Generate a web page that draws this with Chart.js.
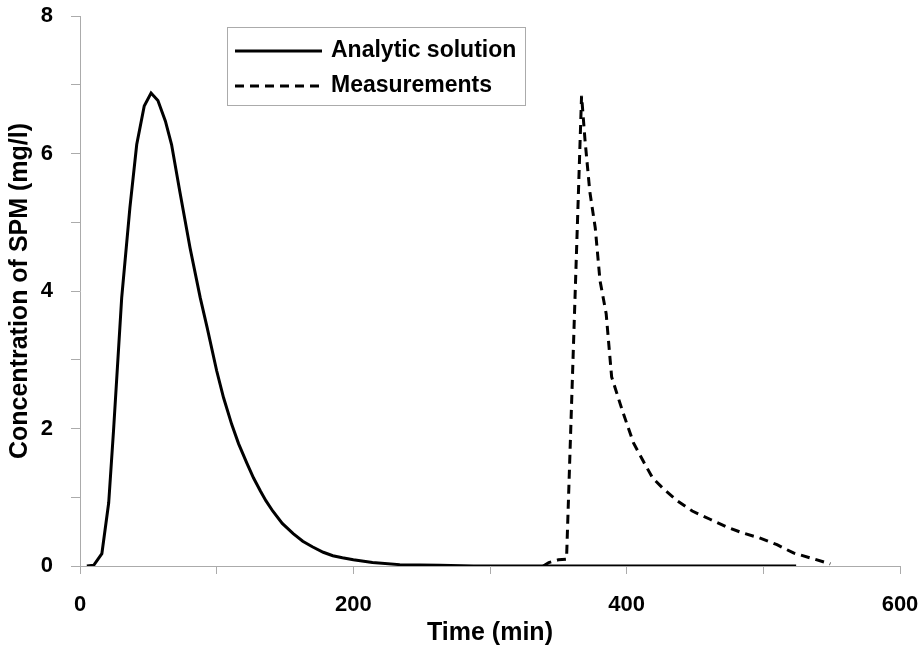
<!DOCTYPE html>
<html>
<head>
<meta charset="utf-8">
<script src="https://cdn.jsdelivr.net/npm/chart.js@4"></script>
<style>
  body { margin: 0; background: #fff; }
  #wrap { width: 920px; height: 648px; }
</style>
</head>
<body>
<div id="wrap"><canvas id="spm" width="920" height="648"></canvas></div>
<script>
'use strict'

// analytic solution (time in min, concentration in mg/l)
var analyticTime = [5, 10, 16, 21, 24.5, 30.5, 36.5, 41.5, 47, 52, 57, 62.5, 67, 73, 80.5, 88, 93, 100, 105, 111, 116, 122, 127, 132, 136, 141, 148, 156, 163, 170, 178, 185, 192, 200, 214, 234, 263, 288, 524];
var analyticConc = [0, 0.01, 0.18, 0.92, 1.96, 3.9, 5.21, 6.13, 6.69, 6.88, 6.77, 6.47, 6.13, 5.45, 4.63, 3.9, 3.47, 2.84, 2.45, 2.06, 1.78, 1.5, 1.28, 1.09, 0.95, 0.8, 0.62, 0.47, 0.36, 0.28, 0.2, 0.15, 0.12, 0.09, 0.05, 0.02, 0.01, 0, 0];

// measurements
var measTime = [339, 343, 350, 356, 367, 369.5, 373, 377, 380.5, 385, 389, 393, 397, 405, 412, 419, 427, 437, 448, 461, 473, 485, 497, 510, 522, 534, 549];
var measConc = [0, 0.05, 0.09, 0.1, 6.84, 6.2, 5.45, 4.92, 4.15, 3.67, 2.75, 2.5, 2.25, 1.79, 1.53, 1.28, 1.12, 0.95, 0.8, 0.68, 0.57, 0.48, 0.41, 0.31, 0.19, 0.12, 0.03];

var xLabels = [0, 200, 400, 600];
var yLabels = [0, 2, 4, 6, 8];

function pairs(xs, ys) {
  var out = [];
  for (var i = 0; i < xs.length; i++) out.push({x: xs[i], y: ys[i]});
  return out;
}

var axisGray = '#ababab';
var fontFam = '"Liberation Sans", Arial, sans-serif';

// legend box drawn inside the plot, like the original
var boxLegend = {
  id: 'boxLegend',
  afterDraw: function(chart) {
    var ctx = chart.ctx;
    var x0 = 227, y0 = 27, w = 298, h = 78;
    ctx.save();
    ctx.fillStyle = '#fff';
    ctx.fillRect(x0, y0, w, h);
    ctx.strokeStyle = axisGray;
    ctx.lineWidth = 1;
    ctx.strokeRect(x0 + 0.5, y0 + 0.5, w, h);
    var rows = [51, 86];
    chart.data.datasets.forEach(function(ds, i) {
      var y = rows[i];
      ctx.beginPath();
      ctx.setLineDash(ds.borderDash || []);
      ctx.lineWidth = ds.borderWidth;
      ctx.strokeStyle = ds.borderColor;
      ctx.moveTo(235, y);
      ctx.lineTo(322, y);
      ctx.stroke();
      ctx.setLineDash([]);
      ctx.fillStyle = '#000';
      ctx.font = 'bold 23px ' + fontFam;
      ctx.textBaseline = 'middle';
      ctx.textAlign = 'left';
      ctx.fillText(ds.label, 331, y);
    });
    ctx.restore();
  }
};

var ctx = document.getElementById('spm');
var mychart = new Chart(ctx, {
  type: 'line',
  data: {
    datasets: [{
      label: 'Analytic solution',
      data: pairs(analyticTime, analyticConc),
      borderColor: '#000',
      borderWidth: 3,
      pointRadius: 0,
      tension: 0
    }, {
      label: 'Measurements',
      data: pairs(measTime, measConc),
      borderColor: '#000',
      borderWidth: 3,
      borderDash: [9, 6],
      pointRadius: 0,
      tension: 0
    }]
  },
  options: {
    responsive: false,
    animation: false,
    layout: { padding: { top: 16, right: 20, left: 0, bottom: 0 } },
    plugins: { legend: { display: false }, tooltip: { enabled: false } },
    scales: {
      x: {
        type: 'linear',
        min: 0,
        max: 600,
        afterFit: function(s) { s.height = 82; s.paddingLeft = 0; s.paddingRight = 0; },
        border: { color: axisGray, width: 1 },
        grid: { drawOnChartArea: false, color: axisGray, tickLength: 8 },
        ticks: {
          stepSize: 100,
          color: '#000',
          padding: 18,
          maxRotation: 0,
          font: { family: fontFam, size: 22, weight: 'bold' },
          callback: function(v) { return xLabels.indexOf(v) >= 0 ? String(v) : ''; }
        },
        title: {
          display: true,
          text: 'Time (min)',
          color: '#000',
          padding: { top: 0, bottom: 0 },
          font: { family: fontFam, size: 25, weight: 'bold' }
        }
      },
      y: {
        min: 0,
        max: 8,
        afterFit: function(s) { s.width = 80; s.paddingTop = 0; s.paddingBottom = 0; },
        border: { color: axisGray, width: 1 },
        grid: { drawOnChartArea: false, color: axisGray, tickLength: 9 },
        ticks: {
          stepSize: 1,
          color: '#000',
          padding: 18,
          font: { family: fontFam, size: 22, weight: 'bold' },
          callback: function(v) { return yLabels.indexOf(v) >= 0 ? String(v) : ''; }
        },
        title: {
          display: true,
          text: 'Concentration of SPM (mg/l)',
          color: '#000',
          padding: { top: 5, bottom: 0 },
          font: { family: fontFam, size: 25, weight: 'bold' }
        }
      }
    }
  },
  plugins: [boxLegend]
});
</script>
</body>
</html>
